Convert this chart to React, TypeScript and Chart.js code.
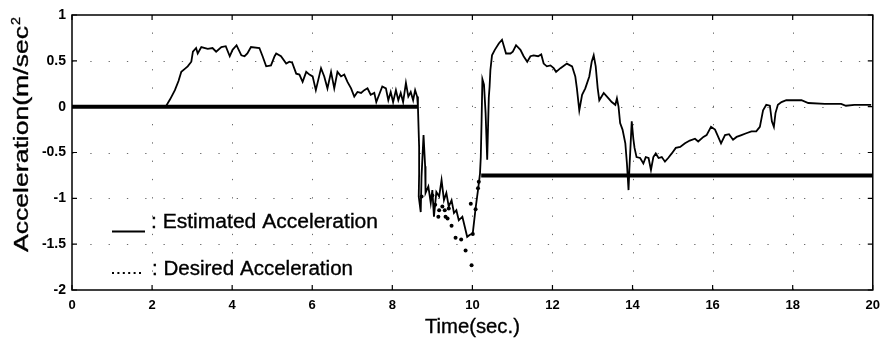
import { useEffect, useRef } from "react";
import { Chart, registerables } from "chart.js";

Chart.register(...registerables);

// Estimated acceleration trace (time in s, acceleration in m/s²)
const estTime = [
  0, 2.34, 2.45, 2.57, 2.66, 2.73, 2.81, 2.89, 2.98, 3.02, 3.1, 3.14, 3.23, 3.39, 3.51, 3.6, 3.73, 3.84, 3.94,
  4.01, 4.11, 4.23, 4.31, 4.38, 4.47, 4.68, 4.76, 4.85, 4.97, 5.06, 5.1, 5.22, 5.35, 5.43, 5.5, 5.6, 5.68, 5.76,
  5.85, 5.93, 6.01, 6.09, 6.22, 6.3, 6.38, 6.47, 6.55, 6.63, 6.72, 6.8, 6.88, 6.97, 7.05, 7.13, 7.22, 7.3, 7.38,
  7.46, 7.55, 7.6, 7.67, 7.75, 7.84, 7.9, 7.96, 8.02, 8.09, 8.15, 8.21, 8.27, 8.34, 8.4, 8.46, 8.52, 8.57, 8.62,
  8.64, 8.67, 8.67, 8.66, 8.71, 8.73, 8.78, 8.82, 8.83, 8.9, 8.96, 9.0, 9.04, 9.1, 9.17, 9.23, 9.29, 9.35, 9.41,
  9.48, 9.54, 9.6, 9.66, 9.75, 9.81, 9.87, 9.93, 10.01, 10.08, 10.14, 10.19, 10.21, 10.23, 10.25, 10.29, 10.33,
  10.37, 10.41, 10.43, 10.45, 10.49, 10.56, 10.66, 10.74, 10.84, 10.95, 11.01, 11.09, 11.2, 11.28, 11.37, 11.45,
  11.53, 11.64, 11.72, 11.78, 11.86, 11.95, 12.03, 12.09, 12.2, 12.36, 12.49, 12.57, 12.61, 12.67, 12.74, 12.82,
  12.92, 12.98, 13.03, 13.08, 13.13, 13.17, 13.28, 13.4, 13.48, 13.57, 13.61, 13.65, 13.69, 13.75, 13.82, 13.86,
  13.9, 13.92, 13.98, 14.02, 14.05, 14.1, 14.19, 14.27, 14.33, 14.4, 14.46, 14.52, 14.58, 14.65, 14.73, 14.81,
  14.89, 14.98, 15.08, 15.19, 15.31, 15.43, 15.56, 15.64, 15.77, 15.85, 15.96, 16.06, 16.14, 16.21, 16.31, 16.41,
  16.51, 16.6, 16.72, 16.84, 16.97, 17.09, 17.18, 17.26, 17.34, 17.43, 17.48, 17.53, 17.57, 17.63, 17.72, 17.84,
  18.01, 18.22, 18.39, 18.8, 19.21, 19.33, 19.54, 19.96,
];
const estAccel = [
  0, 0, 0.08, 0.18, 0.28, 0.38, 0.41, 0.44, 0.49, 0.6, 0.64, 0.58, 0.65, 0.63, 0.64, 0.6, 0.65, 0.66, 0.55,
  0.62, 0.67, 0.56, 0.55, 0.58, 0.65, 0.64, 0.55, 0.44, 0.45, 0.55, 0.58, 0.55, 0.47, 0.49, 0.48, 0.36, 0.35, 0.27,
  0.38, 0.35, 0.33, 0.18, 0.42, 0.33, 0.2, 0.38, 0.2, 0.38, 0.33, 0.35, 0.27, 0.2, 0.11, 0.16, 0.15, 0.18, 0.2,
  0.13, 0.15, 0.05, 0.13, 0.22, 0.2, 0.07, 0.16, 0.05, 0.18, 0.07, 0.15, 0.05, 0.26, 0.11, 0.16, 0.07, 0.18, 0.11,
  0, -0.44, -0.73, -0.98, -1.15, -0.76, -0.31, -0.65, -0.94, -0.87, -1.05, -0.91, -1.2, -0.93, -0.98, -0.8, -1.02, -0.94, -1.09,
  -1.02, -1.16, -1.13, -1.24, -1.2, -1.31, -1.42, -1.4, -1.38, -1.11, -0.91, -0.73, -0.55, -0.15, 0.3, 0.24, -0.07,
  -0.58, 0.1, 0.22, 0.4, 0.56, 0.62, 0.69, 0.73, 0.58, 0.58, 0.6, 0.67, 0.62, 0.55, 0.49, 0.55,
  0.56, 0.55, 0.57, 0.47, 0.44, 0.45, 0.42, 0.38, 0.42, 0.47, 0.44, 0.33, 0.2, -0.04, 0.13, 0.2,
  0.33, 0.49, 0.56, 0.44, 0.2, 0.07, 0.15, 0.09, 0.05, 0.02, 0.09, 0, -0.18, -0.25, -0.4, -0.62,
  -0.91, -0.69, -0.16, -0.35, -0.45, -0.55, -0.56, -0.62, -0.55, -0.56, -0.69, -0.55, -0.51, -0.56, -0.55, -0.6,
  -0.56, -0.51, -0.45, -0.44, -0.4, -0.37, -0.35, -0.38, -0.33, -0.31, -0.22, -0.25, -0.33, -0.4, -0.31, -0.3,
  -0.36, -0.33, -0.31, -0.29, -0.27, -0.27, -0.22, -0.04, 0.02, 0.01, -0.16, -0.22, -0.07, 0.02, 0.05, 0.07,
  0.07, 0.07, 0.04, 0.03, 0.03, 0.01, 0.02, 0.02,
];

// Desired acceleration: constant levels before and after the braking phase
const desiredStepTime = [0, 8.64, 9.4, 10.22, 20];
const desiredStepAccel: (number | null)[] = [0, 0, null, -0.75, -0.75];

// Desired acceleration samples during the braking phase
const desiredDotTime = [
  8.73, 9.0, 9.07, 9.15, 9.17, 9.25, 9.31, 9.33, 9.38, 9.41, 9.48, 9.58, 9.72, 9.83, 9.96, 9.98, 10.01, 10.08,
  10.14, 10.16,
];
const desiredDotAccel = [
  -0.98, -0.97, -1.07, -1.2, -1.13, -1.09, -1.13, -1.2, -1.22, -1.11, -1.3, -1.43, -1.45, -1.57, -1.06, -1.73,
  -1.39, -1.12, -0.89, -0.82,
];

const xMin = 0;
const xMax = 20;
const xStep = 2;
const yMin = -2;
const yMax = 1;
const yStep = 0.5;

const xTitle = "Time(sec.)";
const yTitle = "Acceleration(m/sec";
const yTitleSup = "2";
const legendEstimated = ": Estimated Acceleration";
const legendDesired = ": Desired Acceleration";

const FONT = "'Liberation Sans', Arial, Helvetica, sans-serif";

const zip = (xs: number[], ys: (number | null)[]) => xs.map((x, i) => ({ x, y: ys[i] }));

// Draws text horizontally stretched so that it spans the given width
function fitText(
  ctx: CanvasRenderingContext2D,
  text: string,
  x: number,
  y: number,
  font: string,
  width: number,
  align: CanvasTextAlign = "left"
) {
  ctx.save();
  ctx.font = font;
  const w = ctx.measureText(text).width;
  ctx.translate(x, y);
  ctx.scale(width / w, 1);
  ctx.textAlign = align;
  ctx.textBaseline = "alphabetic";
  ctx.fillStyle = "#000";
  ctx.strokeStyle = "#000";
  ctx.lineWidth = 0.35;
  ctx.fillText(text, 0, 0);
  ctx.strokeText(text, 0, 0);
  ctx.restore();
}

const framePlugin = {
  id: "matlabFrame",
  beforeDatasetsDraw(chart: any) {
    const { ctx, chartArea: a, scales } = chart;
    const xs = scales.x;
    const ys = scales.y;
    ctx.save();
    ctx.strokeStyle = "#6a6a6a";
    ctx.lineWidth = 1;
    ctx.setLineDash([1.3, 17]);
    for (const t of xs.ticks) {
      if (t.value <= xMin || t.value >= xMax) continue;
      const px = Math.round(xs.getPixelForValue(t.value)) + 0.5;
      ctx.beginPath();
      ctx.moveTo(px, a.bottom);
      ctx.lineTo(px, a.top);
      ctx.stroke();
    }
    for (const t of ys.ticks) {
      if (t.value <= yMin || t.value >= yMax) continue;
      const py = Math.round(ys.getPixelForValue(t.value)) + 0.5;
      ctx.beginPath();
      ctx.moveTo(a.left, py);
      ctx.lineTo(a.right, py);
      ctx.stroke();
    }
    ctx.restore();
  },
  afterDraw(chart: any) {
    const { ctx, chartArea: a, scales } = chart;
    const xs = scales.x;
    const ys = scales.y;
    ctx.save();
    // axes box
    ctx.strokeStyle = "#000";
    ctx.lineWidth = 1.5;
    ctx.setLineDash([]);
    ctx.strokeRect(a.left, a.top, a.right - a.left, a.bottom - a.top);
    // inward tick marks on all four sides
    ctx.lineWidth = 1.2;
    const tl = 5;
    for (const t of xs.ticks) {
      const px = xs.getPixelForValue(t.value);
      ctx.beginPath();
      ctx.moveTo(px, a.bottom);
      ctx.lineTo(px, a.bottom - tl);
      ctx.moveTo(px, a.top);
      ctx.lineTo(px, a.top + tl);
      ctx.stroke();
    }
    for (const t of ys.ticks) {
      const py = ys.getPixelForValue(t.value);
      ctx.beginPath();
      ctx.moveTo(a.left, py);
      ctx.lineTo(a.left + tl, py);
      ctx.moveTo(a.right, py);
      ctx.lineTo(a.right - tl, py);
      ctx.stroke();
    }

    // axis titles
    fitText(ctx, xTitle, (a.left + a.right) / 2, 333, `20px ${FONT}`, 95, "center");
    ctx.save();
    ctx.translate(28, 252);
    ctx.rotate(-Math.PI / 2);
    fitText(ctx, yTitle, 0, 0, `20px ${FONT}`, 226);
    fitText(ctx, yTitleSup, 227, -8, `13px ${FONT}`, 8);
    ctx.restore();

    // legend drawn inside the axes
    ctx.strokeStyle = "#000";
    ctx.lineWidth = 2;
    ctx.beginPath();
    ctx.moveTo(112, 231.5);
    ctx.lineTo(145, 231.5);
    ctx.stroke();
    fitText(ctx, legendEstimated, 151, 228, `20px ${FONT}`, 227);

    ctx.fillStyle = "#000";
    for (let i = 0; i < 6; i++) {
      ctx.fillRect(112 + i * 5.4, 272, 2, 2);
    }
    fitText(ctx, legendDesired, 152, 275, `20px ${FONT}`, 201);
    ctx.restore();
  },
};

export default function App() {
  const ref = useRef<HTMLCanvasElement>(null);

  useEffect(() => {
    const canvas = ref.current;
    if (!canvas) return;
    const chart = new Chart(canvas, {
      type: "line",
      data: {
        datasets: [
          {
            label: "Desired Acceleration",
            data: zip(desiredStepTime, desiredStepAccel),
            borderColor: "#000",
            borderWidth: 4,
            pointRadius: 0,
            spanGaps: false,
            tension: 0,
          },
          {
            label: "Desired Acceleration samples",
            data: zip(desiredDotTime, desiredDotAccel),
            showLine: false,
            pointRadius: 2,
            pointBackgroundColor: "#000",
            pointBorderWidth: 0,
            borderColor: "#000",
          },
          {
            label: "Estimated Acceleration",
            data: zip(estTime, estAccel),
            borderColor: "#000",
            borderWidth: 1.8,
            pointRadius: 0,
            tension: 0,
          },
        ],
      },
      options: {
        responsive: false,
        animation: false,
        devicePixelRatio: 1,
        layout: { padding: { top: 15, right: 13, left: 0, bottom: 0 } },
        plugins: {
          legend: { display: false },
          tooltip: { enabled: false },
        },
        scales: {
          x: {
            type: "linear",
            min: xMin,
            max: xMax,
            ticks: {
              stepSize: xStep,
              color: "#000",
              padding: 8,
              font: { family: FONT, size: 13, weight: "bold" },
              maxRotation: 0,
              callback: (v: any) => String(v),
            },
            grid: { display: false, drawTicks: false },
            border: { display: false },
            afterFit: (s: any) => {
              s.height = 53;
            },
          },
          y: {
            type: "linear",
            min: yMin,
            max: yMax,
            ticks: {
              stepSize: yStep,
              color: "#000",
              padding: 6,
              font: { family: FONT, size: 14, weight: "bold" },
              callback: (v: any) => String(v),
            },
            grid: { display: false, drawTicks: false },
            border: { display: false },
            afterFit: (s: any) => {
              s.width = 72;
            },
          },
        },
      },
      plugins: [framePlugin],
    });
    return () => chart.destroy();
  }, []);

  return (
    <div style={{ position: "absolute", left: 0, top: 0, width: 888, height: 343, background: "#fff" }}>
      <canvas ref={ref} width={888} height={343} style={{ display: "block", width: 888, height: 343 }} />
    </div>
  );
}
